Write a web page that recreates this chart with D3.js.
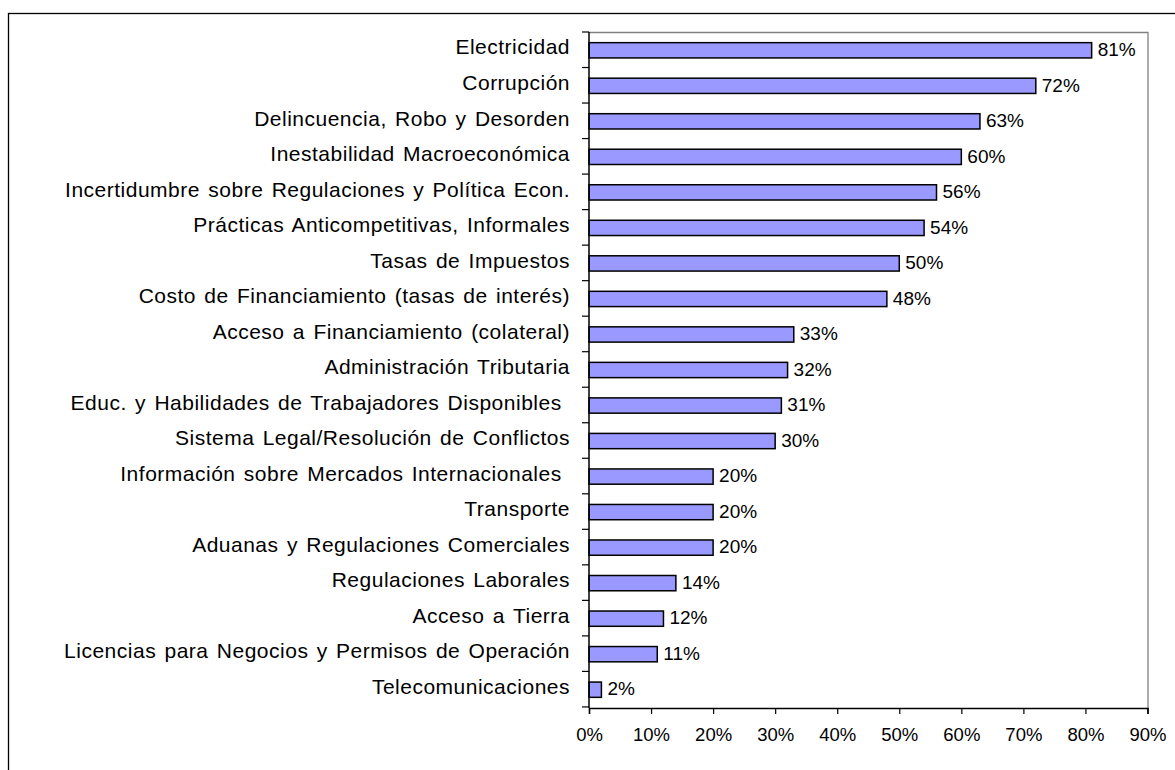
<!DOCTYPE html>
<meta charset="utf-8">
<style>
body { margin: 0; background: #fff; }
text { font-family: "Liberation Sans", Arial, sans-serif; fill: #000; white-space: pre; }
</style>
<svg width="1175" height="770"></svg>
<script src="https://d3js.org/d3.v7.min.js"></script>
<script>

var categories = [
  "Electricidad",
  "Corrupción",
  "Delincuencia, Robo y Desorden",
  "Inestabilidad Macroeconómica",
  "Incertidumbre sobre Regulaciones y Política Econ.",
  "Prácticas Anticompetitivas, Informales",
  "Tasas de Impuestos",
  "Costo de Financiamiento (tasas de interés)",
  "Acceso a Financiamiento (colateral)",
  "Administración Tributaria",
  "Educ. y Habilidades de Trabajadores Disponibles ",
  "Sistema Legal/Resolución de Conflictos",
  "Información sobre Mercados Internacionales ",
  "Transporte",
  "Aduanas y Regulaciones Comerciales",
  "Regulaciones Laborales",
  "Acceso a Tierra",
  "Licencias para Negocios y Permisos de Operación",
  "Telecomunicaciones"
];
var values = [81, 72, 63, 60, 56, 54, 50, 48, 33, 32, 31, 30, 20, 20, 20, 14, 12, 11, 2];
var ticks = [0, 10, 20, 30, 40, 50, 60, 70, 80, 90];

var svg = d3.select("svg");

// marco exterior
svg.append("rect")
   .attr("x", 8.5).attr("y", 13.5)
   .attr("width", 1200).attr("height", 800)
   .attr("fill", "#fff")
   .attr("stroke", "#000")
   .attr("stroke-width", 1.3);

var plotLeft = 589, plotRight = 1147.5, plotTop = 32, plotBottom = 708;

var x = d3.scaleLinear().domain([0, 90]).range([plotLeft, plotRight]);
var y = d3.scaleBand().domain(categories).range([plotTop, plotBottom]).paddingInner(0.57).paddingOuter(0.3);

// borde gris del área
svg.append("path")
   .attr("d", "M" + plotLeft + "," + (plotTop + 0.5) + "H" + (plotRight + 0.5) + "V" + plotBottom)
   .attr("fill", "none")
   .attr("stroke", "#808080")
   .attr("stroke-width", 1.3);

svg.selectAll("rect.bar")
   .data(values)
   .enter()
   .append("rect")
   .attr("class", "bar")
   .attr("x", x(0))
   .attr("y", function(d, i) { return y(categories[i]); })
   .attr("width", function(d) { return x(d) - x(0); })
   .attr("height", y.bandwidth())
   .attr("fill", "#9999ff")
   .attr("stroke", "#000")
   .attr("stroke-width", 1.5);

svg.selectAll("text.val")
   .data(values)
   .enter()
   .append("text")
   .attr("class", "val")
   .attr("x", function(d) { return x(d) + 6; })
   .attr("y", function(d, i) { return y(categories[i]) + y.bandwidth() / 2; })
   .attr("dy", "0.3em")
   .attr("font-size", "19px")
   .text(function(d) { return d + "%"; });

// eje y
var step = y.step();
var yAxis = svg.append("g");
yAxis.append("line")
   .attr("x1", plotLeft).attr("x2", plotLeft)
   .attr("y1", plotTop).attr("y2", plotBottom)
   .attr("stroke", "#000").attr("stroke-width", 1.5);
yAxis.selectAll("line.tk")
   .data(d3.range(categories.length + 1))
   .enter()
   .append("line")
   .attr("class", "tk")
   .attr("x1", plotLeft - 7).attr("x2", plotLeft)
   .attr("y1", function(i) { return plotTop + i * step; })
   .attr("y2", function(i) { return plotTop + i * step; })
   .attr("stroke", "#000").attr("stroke-width", 1.2);
yAxis.selectAll("text")
   .data(categories)
   .enter()
   .append("text")
   .attr("x", plotLeft - 19)
   .attr("y", function(d) { return y(d) + y.bandwidth() / 2; })
   .attr("dy", "0.2em")
   .attr("text-anchor", "end")
   .attr("font-size", "21px")
   .attr("letter-spacing", "0.5px")
   .attr("word-spacing", "2px")
   .text(function(d) { return d; });

// eje x
var xAxis = svg.append("g")
   .attr("transform", "translate(0," + plotBottom + ")")
   .call(d3.axisBottom(x).tickValues(ticks).tickSize(6).tickPadding(14).tickFormat(function(d) { return d + "%"; }));
xAxis.select(".domain").attr("stroke", "#000").attr("stroke-width", 1.5);
xAxis.selectAll(".tick line").attr("stroke", "#000").attr("stroke-width", 1.2);
xAxis.selectAll(".tick text")
   .attr("font-family", "'Liberation Sans', Arial, sans-serif")
   .attr("font-size", "18.5px")
   .attr("fill", "#000");

</script>
